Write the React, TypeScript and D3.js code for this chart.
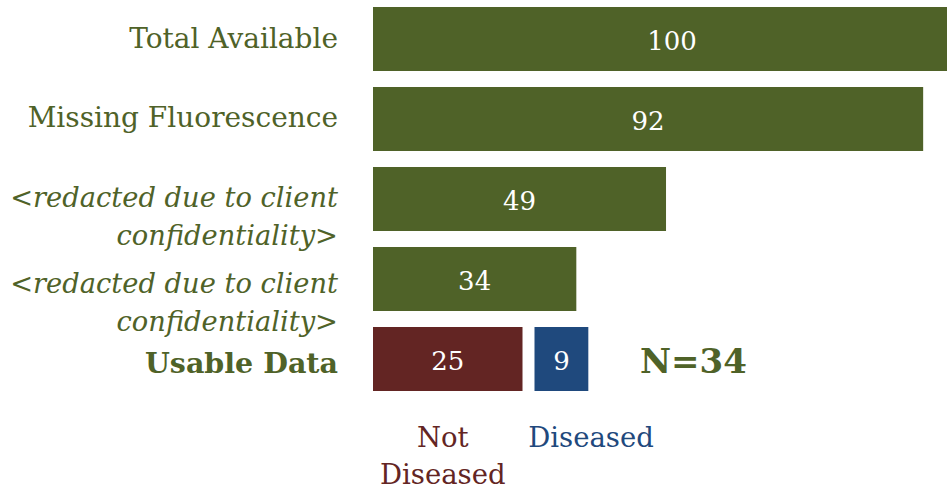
import React from "react";
import * as d3 from "d3";

const categories = [
  "Total Available",
  "Missing Fluorescence",
  "<redacted due to client|confidentiality>",
  "<redacted due to client|confidentiality>#2",
  "Usable Data",
];
const funnelValues = [100, 92, 49, 34];
const splitLabels = ["Not Diseased", "Diseased"];
const splitValues = [25, 9];
const totalLabel = "N=34";

const W = 947;
const H = 489;
const GREEN = "#4F6228";
const RED = "#632523";
const BLUE = "#1F497D";
const FONT = "'DejaVu Serif', Georgia, serif";

export default function App() {
  const y = d3.scaleBand<string>().domain(categories).range([-1, 399]).paddingInner(0.2).paddingOuter(0.1);
  const x = d3.scaleLinear().domain([0, 100]).range([373, 971]);
  const bw = y.bandwidth();
  const labelX = 338;
  const labelOffsets = [9, 8, 8, 14, 14];

  const usableY = y(categories[4])!;
  const ndEnd = x(splitValues[0]);
  const dStart = ndEnd + 12;
  const dEnd = dStart + (x(splitValues[1]) - x(0));

  return (
    <svg width={W} height={H} style={{ position: "absolute", left: 0, top: 0 }} fontFamily={FONT}>
      <rect width={W} height={H} fill="#fff" />
      {funnelValues.map((v, i) => {
        const yy = y(categories[i])!;
        return (
          <g key={i}>
            <rect x={x(0)} y={yy} width={x(v) - x(0)} height={bw} fill={GREEN} />
            <text x={(x(0) + x(v)) / 2} y={yy + bw / 2 + 11} textAnchor="middle" fill="#fff" fontSize={26}>
              {v}
            </text>
          </g>
        );
      })}
      <rect x={x(0)} y={usableY} width={ndEnd - x(0)} height={bw} fill={RED} />
      <text x={(x(0) + ndEnd) / 2} y={usableY + bw / 2 + 11} textAnchor="middle" fill="#fff" fontSize={26}>
        {splitValues[0]}
      </text>
      <rect x={dStart} y={usableY} width={dEnd - dStart} height={bw} fill={BLUE} />
      <text x={(dStart + dEnd) / 2} y={usableY + bw / 2 + 11} textAnchor="middle" fill="#fff" fontSize={26}>
        {splitValues[1]}
      </text>
      <text x={640} y={usableY + bw / 2 + 14} fill={GREEN} fontSize={34} fontWeight="bold">
        {totalLabel}
      </text>

      {categories.map((c, i) => {
        const yy = y(c)! + bw / 2 + labelOffsets[i];
        const text = c.split("#")[0];
        if (text.includes("|")) {
          const [a, b] = text.split("|");
          return (
            <text key={i} textAnchor="end" fill={GREEN} fontSize={27.3} fontStyle="italic">
              <tspan x={labelX} y={yy}>{a}</tspan>
              <tspan x={labelX} y={yy + 38}>{b}</tspan>
            </text>
          );
        }
        return (
          <text key={i} x={labelX} y={yy} textAnchor="end" fill={GREEN} fontSize={i === 4 ? 28.5 : 28} fontWeight={i === 4 ? "bold" : "normal"}>
            {text}
          </text>
        );
      })}

      <text textAnchor="middle" fill={RED} fontSize={27.5}>
        <tspan x={(x(0) + ndEnd) / 2 - 5} y={447}>Not</tspan>
        <tspan x={(x(0) + ndEnd) / 2 - 5} y={484}>Diseased</tspan>
      </text>
      <text x={591} y={447} textAnchor="middle" fill={BLUE} fontSize={27.5}>
        {splitLabels[1]}
      </text>
    </svg>
  );
}
